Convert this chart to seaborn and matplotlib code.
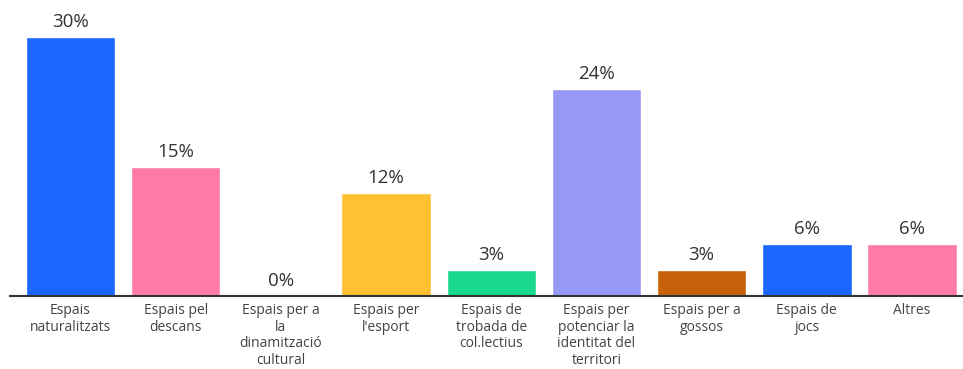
import matplotlib
matplotlib.use("Agg")
import matplotlib.pyplot as plt
import seaborn as sns
import pandas as pd

categories = [
    "Espais\nnaturalitzats",
    "Espais pel\ndescans",
    "Espais per a\nla\ndinamització\ncultural",
    "Espais per\nl'esport",
    "Espais de\ntrobada de\ncol.lectius",
    "Espais per\npotenciar la\nidentitat del\nterritori",
    "Espais per a\ngossos",
    "Espais de\njocs",
    "Altres",
]
values = [30, 15, 0, 12, 3, 24, 3, 6, 6]
colors = ["#1a66ff", "#ff7aa8", "#9699f5", "#ffc132", "#19d98c",
          "#9699f5", "#c8620a", "#1a66ff", "#ff7aa8"]

sns.set_theme(style="white")
plt.rcParams["font.family"] = ["Open Sans", "DejaVu Sans"]

df = pd.DataFrame({"cat": categories, "val": values})

fig = plt.figure(figsize=(9.63, 3.69), dpi=100)
ax = fig.add_axes([10 / 963, 73 / 369, 953 / 963, 293 / 369])

sns.barplot(data=df, x="cat", y="val", hue="cat", palette=colors,
            legend=False, width=0.85, saturation=1, ax=ax)

for i, v in enumerate(values):
    ax.text(i, v + 0.7, f"{v}%", ha="center", va="bottom",
            fontsize=13.5, color="#333333")

ax.set_xlim(-0.575, 8.485)
ax.set_ylim(0, 34)
ax.set_xlabel("")
ax.set_ylabel("")
ax.set_yticks([])
ax.tick_params(axis="x", length=0, pad=5, labelsize=10, colors="#444444")
for lbl in ax.get_xticklabels():
    lbl.set_linespacing(1.15)
for s in ["top", "right", "left"]:
    ax.spines[s].set_visible(False)
ax.spines["bottom"].set_color("#333333")
ax.spines["bottom"].set_linewidth(1.5)

fig.savefig("out.png", dpi=100)
